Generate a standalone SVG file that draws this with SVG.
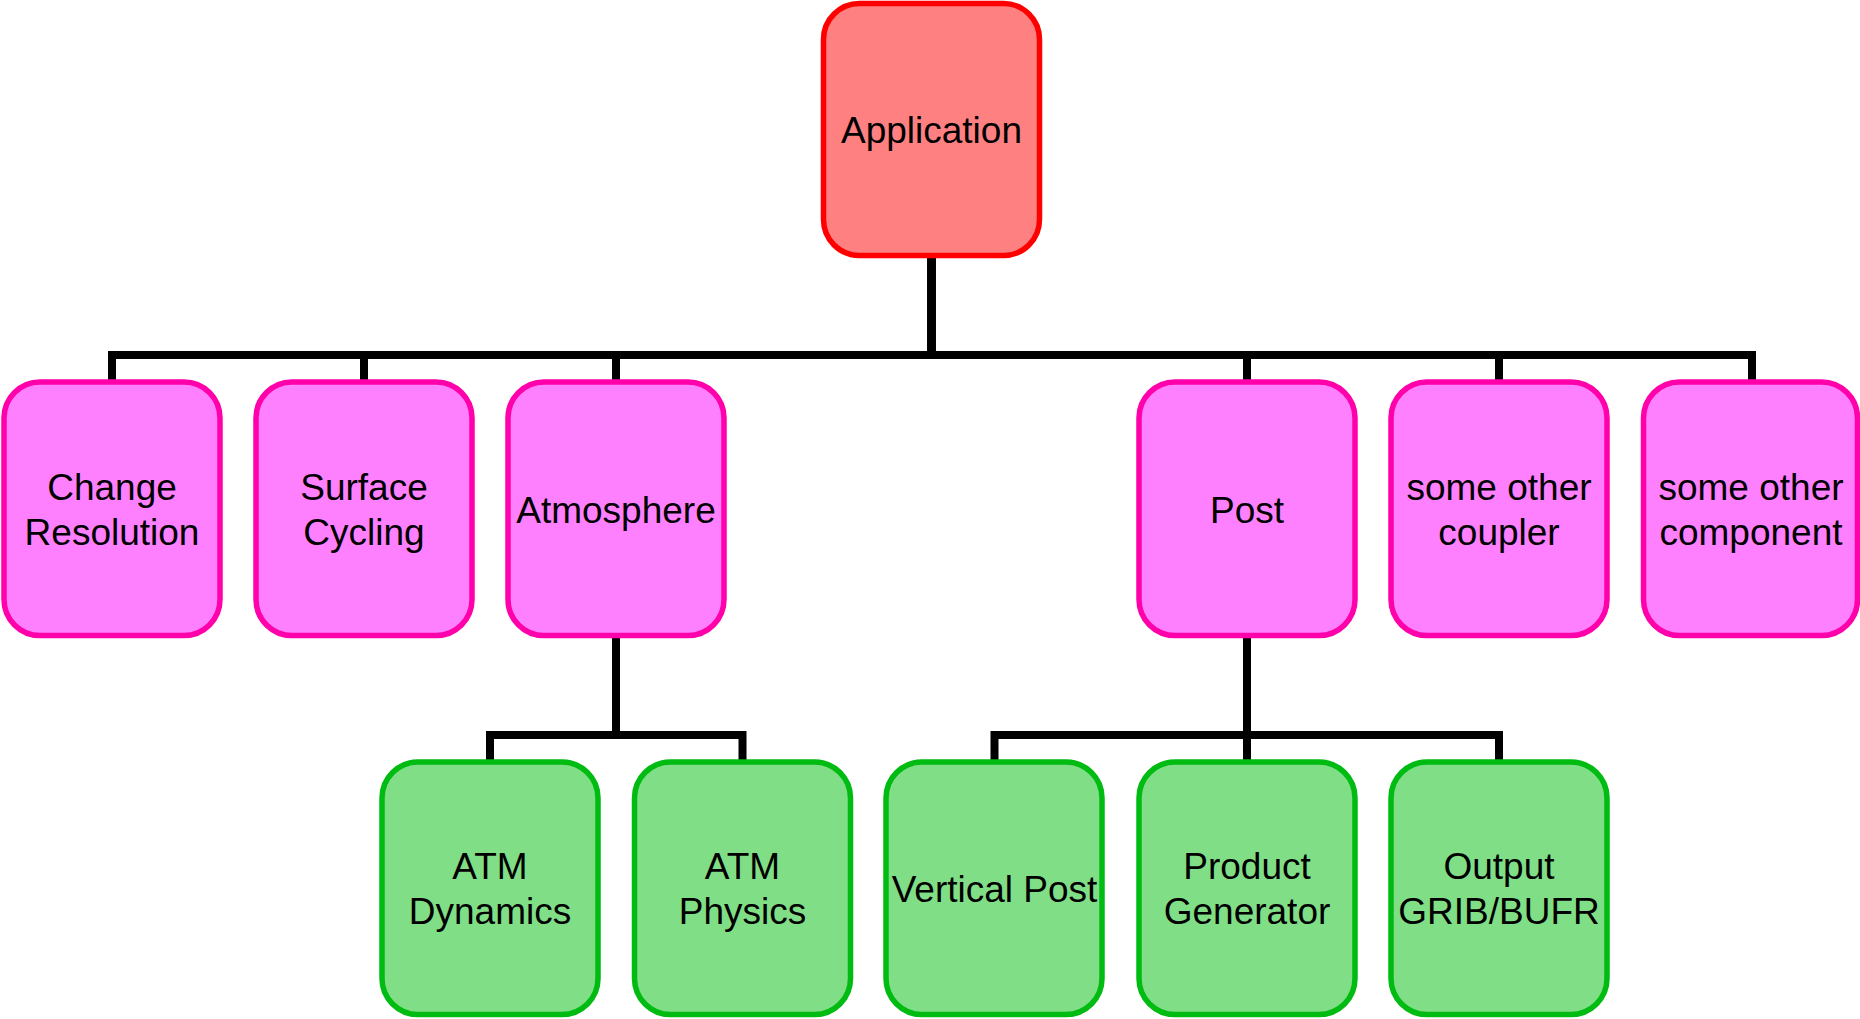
<svg xmlns="http://www.w3.org/2000/svg" width="1860" height="1019" viewBox="0 0 1860 1019">
  <style>
    .box { stroke-width: 5.5; }
    .app { fill: #FF8080; stroke: #FF0000; }
    .comp { fill: #FF80FF; stroke: #FF00AA; }
    .sub { fill: #80DF86; stroke: #00BB11; }
    .label { font-family: "Liberation Sans", Arial, sans-serif; font-size: 37px; fill: #000; text-anchor: middle; }
    .wire { fill: none; stroke: #000; stroke-width: 8; stroke-linejoin: miter; }
  </style>
  <rect width="1860" height="1019" fill="#FFFFFF"/>

  <!-- tree connectors (elbow style) -->
  <g id="connectors">
    <path class="wire" d="M931.5,258 V355 H112 V380"/>
    <path class="wire" d="M931.5,258 V355 H364 V380"/>
    <path class="wire" d="M931.5,258 V355 H616 V380"/>
    <path class="wire" d="M931.5,258 V355 H1247 V380"/>
    <path class="wire" d="M931.5,258 V355 H1499 V380"/>
    <path class="wire" d="M931.5,258 V355 H1752 V380"/>
    <path class="wire" d="M616,638 V735 H490 V760"/>
    <path class="wire" d="M616,638 V735 H742.5 V760"/>
    <path class="wire" d="M1247,638 V735 H994.5 V760"/>
    <path class="wire" d="M1247,638 V735 H1247 V760"/>
    <path class="wire" d="M1247,638 V735 H1499 V760"/>
  </g>

  <!-- root -->
  <g id="application">
    <rect class="box app" x="823.5" y="3.5" width="216" height="252" rx="36"/>
    <text class="label" x="931.5" y="143">Application</text>
  </g>

  <!-- first level components -->
  <g id="change-resolution">
    <rect class="box comp" x="4" y="382" width="216" height="253.5" rx="36"/>
    <text class="label" x="112" y="500">Change</text>
    <text class="label" x="112" y="545">Resolution</text>
  </g>
  <g id="surface-cycling">
    <rect class="box comp" x="256" y="382" width="216" height="253.5" rx="36"/>
    <text class="label" x="364" y="500">Surface</text>
    <text class="label" x="364" y="545">Cycling</text>
  </g>
  <g id="atmosphere">
    <rect class="box comp" x="508" y="382" width="216" height="253.5" rx="36"/>
    <text class="label" x="616" y="523">Atmosphere</text>
  </g>
  <g id="post">
    <rect class="box comp" x="1139" y="382" width="216" height="253.5" rx="36"/>
    <text class="label" x="1247" y="523">Post</text>
  </g>
  <g id="other-coupler">
    <rect class="box comp" x="1391" y="382" width="216" height="253.5" rx="36"/>
    <text class="label" x="1499" y="500">some other</text>
    <text class="label" x="1499" y="545">coupler</text>
  </g>
  <g id="other-component">
    <rect class="box comp" x="1643.5" y="382" width="214" height="253.5" rx="36"/>
    <text class="label" x="1751" y="500">some other</text>
    <text class="label" x="1751" y="545">component</text>
  </g>

  <!-- second level components -->
  <g id="atm-dynamics">
    <rect class="box sub" x="382" y="762" width="216" height="252.5" rx="36"/>
    <text class="label" x="490" y="879">ATM</text>
    <text class="label" x="490" y="924">Dynamics</text>
  </g>
  <g id="atm-physics">
    <rect class="box sub" x="634.5" y="762" width="216" height="252.5" rx="36"/>
    <text class="label" x="742.5" y="879">ATM</text>
    <text class="label" x="742.5" y="924">Physics</text>
  </g>
  <g id="vertical-post">
    <rect class="box sub" x="886" y="762" width="216" height="252.5" rx="36"/>
    <text class="label" x="994.5" y="902">Vertical Post</text>
  </g>
  <g id="product-generator">
    <rect class="box sub" x="1139" y="762" width="216" height="252.5" rx="36"/>
    <text class="label" x="1247" y="879">Product</text>
    <text class="label" x="1247" y="924">Generator</text>
  </g>
  <g id="output-grib-bufr">
    <rect class="box sub" x="1391" y="762" width="216" height="252.5" rx="36"/>
    <text class="label" x="1499" y="879">Output</text>
    <text class="label" x="1499" y="924">GRIB/BUFR</text>
  </g>
</svg>
